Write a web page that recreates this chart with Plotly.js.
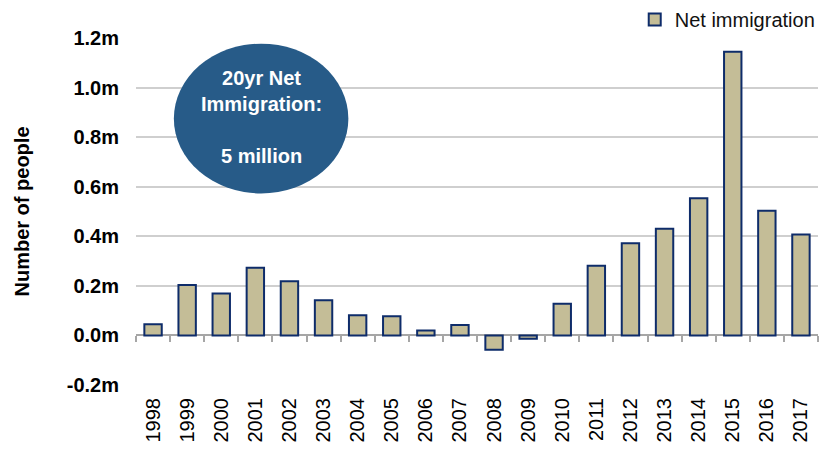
<!DOCTYPE html>
<html>
<head>
<meta charset="utf-8">
<script src="https://cdn.plot.ly/plotly-3.0.1.min.js"></script>
<style>html,body{margin:0;padding:0;background:#fff;}#chart{width:821px;height:449px;}</style>
</head>
<body>
<div id="chart"></div>
<script>
var years = ["1998","1999","2000","2001","2002","2003","2004","2005","2006","2007","2008","2009","2010","2011","2012","2013","2014","2015","2016","2017"];
var netImmigration = [0.045,0.203,0.169,0.273,0.219,0.142,0.081,0.077,0.020,0.042,-0.058,-0.013,0.128,0.281,0.372,0.430,0.553,1.145,0.503,0.407];
var yTickVals = [-0.2,0,0.2,0.4,0.6,0.8,1.0,1.2];
var yTickText = ["-0.2m","0.0m","0.2m","0.4m","0.6m","0.8m","1.0m","1.2m"];
var seriesName = "Net immigration";
var calloutText = "20yr Net<br>Immigration:<br><br>5 million";

var FONT = "Liberation Sans, Arial, sans-serif";

var bars = {
  type: "bar",
  name: seriesName,
  x: years,
  y: netImmigration,
  marker: {color: "#C4BD97", line: {color: "#0E2C6A", width: 2}},
  hoverinfo: "x+y"
};
var tickCarrier = {
  type: "bar",
  x: years,
  y: netImmigration,
  xaxis: "x2",
  marker: {color: "rgba(0,0,0,0)"},
  showlegend: false,
  hoverinfo: "skip"
};

var layout = {
  width: 821, height: 449,
  margin: {l: 136, r: 0, t: 36, b: 64},
  paper_bgcolor: "#fff", plot_bgcolor: "#fff",
  bargap: 0.49,
  showlegend: true,
  legend: {
    x: 1.004, xanchor: "right", y: 1.054, yanchor: "middle",
    font: {family: FONT, size: 20, color: "#111"},
    bgcolor: "rgba(0,0,0,0)", borderwidth: 0
  },
  xaxis: {
    type: "category",
    showgrid: false, zeroline: false, showline: false,
    ticks: "",
    tickangle: -90,
    ticklabelstandoff: 8,
    tickfont: {family: FONT, size: 20, color: "#000"}
  },
  xaxis2: {
    type: "category",
    overlaying: "x", matches: "x",
    anchor: "free", position: 0.2 / 1.4,
    showgrid: false, zeroline: false, showline: false,
    showticklabels: false,
    ticks: "outside", tickson: "boundaries",
    ticklen: 6, tickwidth: 2, tickcolor: "#A6A6A6"
  },
  yaxis: {
    range: [-0.2, 1.2],
    tickvals: yTickVals, ticktext: yTickText,
    showgrid: true, gridcolor: "#CFCFCF", gridwidth: 2,
    zeroline: true, zerolinecolor: "#A6A6A6", zerolinewidth: 2,
    showline: false, ticks: "",
    ticklabelstandoff: 16,
    tickfont: {family: FONT, size: 20, color: "#000", weight: "bold"},
    title: {text: "Number of people", standoff: 31, font: {family: FONT, size: 20, color: "#000", weight: "bold"}}
  },
  shapes: [{
    type: "circle", xref: "paper", yref: "paper",
    x0: 0.0555, x1: 0.3114, y0: 0.552, y1: 0.9837,
    fillcolor: "#275B88", line: {width: 0}, layer: "above"
  }],
  annotations: [{
    xref: "paper", yref: "paper", x: 0.1835, y: 0.772,
    xanchor: "center", yanchor: "middle",
    text: calloutText, showarrow: false, align: "center",
    font: {family: FONT, size: 20, color: "#fff", weight: "bold"}
  }]
};

Plotly.newPlot("chart", [bars, tickCarrier], layout, {displayModeBar: false, staticPlot: true});
</script>
</body>
</html>
